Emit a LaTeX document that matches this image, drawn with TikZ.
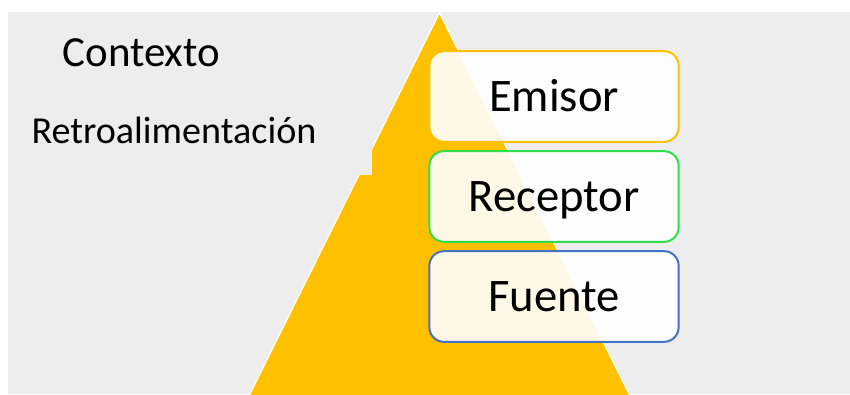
\documentclass[tikz,border=0pt]{standalone}
\usepackage{fontspec}
\setmainfont{Carlito}
\usetikzlibrary{positioning}
\definecolor{back}{RGB}{237, 237, 237}
\definecolor{tri}{RGB}{255, 192, 0}
\definecolor{lgreen}{RGB}{46, 222, 76}
\definecolor{lblue}{RGB}{68, 114, 196}

\begin{document}
\begin{tikzpicture}[x=0.75pt, y=-0.75pt, thick,
  label text/.style={text depth=0pt, inner sep=0pt},
  box/.style={draw, line width=1.5pt, rounded corners=11pt, fill=white,
    fill opacity=0.9, text opacity=1, minimum width=187pt, minimum height=68pt,
    font=\fontsize{35}{40}\selectfont, text height=22.5pt, text depth=0pt},
  node distance=5.5pt]
  \useasboundingbox (0, 0) rectangle (850, 394);

  \fill[back] (8, 12) rectangle (850, 394);

  \fill[tri] (439.5, 13) -- (630, 396) -- (249, 396) -- cycle;
  \draw[white, line width=0.8pt] (249, 396) -- (439.5, 13) -- (630, 396);

  % patch over the left slope
  \fill[back] (8, 12) rectangle (372, 175);
  \node[label text, text height=20.7pt, font=\fontsize{32.2}{36}\selectfont] (ctx) at (141.5, 52.5) {Contexto};
  \node[label text, text height=18.4pt, font=\fontsize{28.6}{32}\selectfont] (retro) at (174, 131.5) {Retroalimentación};

  \node[box, draw=tri] (emisor) at (554, 96.5) {Emisor};
  \node[box, draw=lgreen, below=of emisor] (receptor) {Receptor};
  \node[box, draw=lblue, below=of receptor] (fuente) {Fuente};
\end{tikzpicture}
\end{document}
